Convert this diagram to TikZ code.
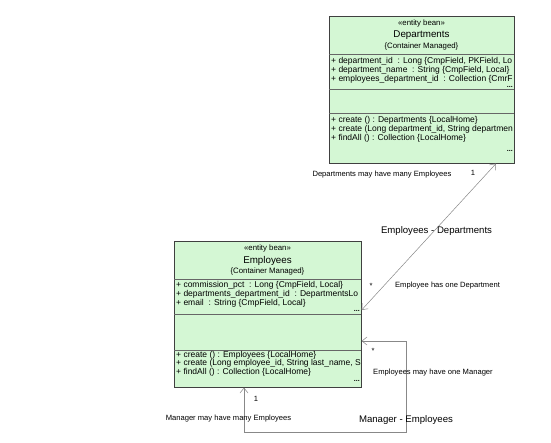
\documentclass[tikz,border=0pt]{standalone}
\usepackage{fontspec}
\setmainfont{Liberation Sans}
\usetikzlibrary{arrows.meta,calc}
\definecolor{boxfill}{HTML}{D4F7D4}
\definecolor{linegray}{HTML}{888888}
\begin{document}
\begin{tikzpicture}[x=1pt,y=-1pt,
  umlbox/.style={draw=black!75, fill=boxfill, line width=0.6pt, inner sep=0pt, anchor=north west},
  sepline/.style={draw=black!60, line width=0.5pt},
  row/.style={anchor=west, inner sep=0pt, font=\fontsize{8.5}{9}\selectfont},
  stereo/.style={inner sep=0pt, font=\fontsize{7.8}{9}\selectfont},
  title/.style={inner sep=0pt, font=\fontsize{9.8}{11}\selectfont},
  more/.style={anchor=east, inner sep=0pt, font=\fontsize{7}{8}\bfseries\selectfont},
  lab/.style={inner sep=0pt, font=\fontsize{7.6}{9}\selectfont},
  biglab/.style={inner sep=0pt, font=\fontsize{9.6}{11}\selectfont},
  assoc/.style={draw=linegray, line width=0.5pt, {Straight Barb[length=5pt,width=8pt]}-{Straight Barb[length=5pt,width=8pt]}}
]
\useasboundingbox (0,0) rectangle (551,442);
\fill[white] (0,0) rectangle (551,442);

% Departments box
\node[umlbox, minimum width=185pt, minimum height=147pt] (dep) at (329,16) {};
\draw[sepline] (329,54) -- (514,54);
\draw[sepline] (329,89) -- (514,89);
\draw[sepline] (329,113) -- (514,113);
\begin{scope}
\clip (dep.north west) rectangle (dep.south east);
\node[stereo] (dst) at (421.5,23) {«entity bean»};
\node[title] (dtl) at (421.5,35.5) {Departments};
\node[stereo] (dcm) at (421.5,46) {\{Container Managed\}};
\node[row] (da1) at (331,61.5) {+ department\_id\ \ : Long \{CmpField, PKField, Lo};
\node[row] (da2) at (331,70.5) {+ department\_name\ \ : String \{CmpField, Local\}};
\node[row] (da3) at (331,79.5) {+ employees\_department\_id\ \ : Collection \{CmrF};
\node[more] (dm1) at (513,87) {...};
\node[row] (dm2) at (331,120) {+ create () : Departments \{LocalHome\}};
\node[row] (dm3) at (331,129) {+ create (Long department\_id, String departmen};
\node[row] (dm4) at (331,138) {+ findAll () : Collection \{LocalHome\}};
\node[more] (dm5) at (513,150.5) {...};
\end{scope}

% Employees box
\node[umlbox, minimum width=187pt, minimum height=146pt] (emp) at (174,241) {};
\draw[sepline] (174,279) -- (361,279);
\draw[sepline] (174,314) -- (361,314);
\draw[sepline] (174,350) -- (361,350);
\begin{scope}
\clip (emp.north west) rectangle (emp.south east);
\node[stereo] (est) at (267.5,248) {«entity bean»};
\node[title] (etl) at (267.5,260.5) {Employees};
\node[stereo] (ecm) at (267.5,271) {\{Container Managed\}};
\node[row] (ea1) at (176,285) {+ commission\_pct\ \ : Long \{CmpField, Local\}};
\node[row] (ea2) at (176,294) {+ departments\_department\_id\ \ : DepartmentsLo};
\node[row] (ea3) at (176,303) {+ email\ \ : String \{CmpField, Local\}};
\node[more] (em1) at (360,311) {...};
\node[row] (em2) at (176,355) {+ create () : Employees \{LocalHome\}};
\node[row] (em3) at (176,363.5) {+ create (Long employee\_id, String last\_name, S};
\node[row] (em4) at (176,372) {+ findAll () : Collection \{LocalHome\}};
\node[more] (em5) at (360,381) {...};
\end{scope}

% connector end points on the boxes
\coordinate (d1) at ($(dep.south west)+(167,0)$);
\coordinate (e1) at ($(emp.north east)+(0,69)$);
\coordinate (e2) at ($(emp.north east)+(0,100)$);
\coordinate (e3) at ($(emp.south west)+(70,0)$);
\coordinate (b1) at (406,341);
\coordinate (b2) at (406,432);
\coordinate (b3) at (244,432);

\draw[assoc] (e1) -- (d1);
\draw[assoc] (e2) -- (b1) -- (b2) -- (b3) -- (e3);

% labels
\node[lab] (l1) at (382,175) {Departments may have many Employees};
\node[lab] (l2) at (473,173) {1};
\node[biglab] (l3) at (436.5,231) {Employees - Departments};
\node[lab] (l4) at (371,286) {*};
\node[lab] (l5) at (447.5,286) {Employee has one Department};
\node[lab] (l6) at (373,351) {*};
\node[lab, anchor=west] (l7) at (373,373) {Employees may have one Manager};
\node[lab] (l8) at (256,399) {1};
\node[lab] (l9) at (228.5,419) {Manager may have many Employees};
\node[biglab] (l10) at (406,420) {Manager - Employees};
\end{tikzpicture}
\end{document}
